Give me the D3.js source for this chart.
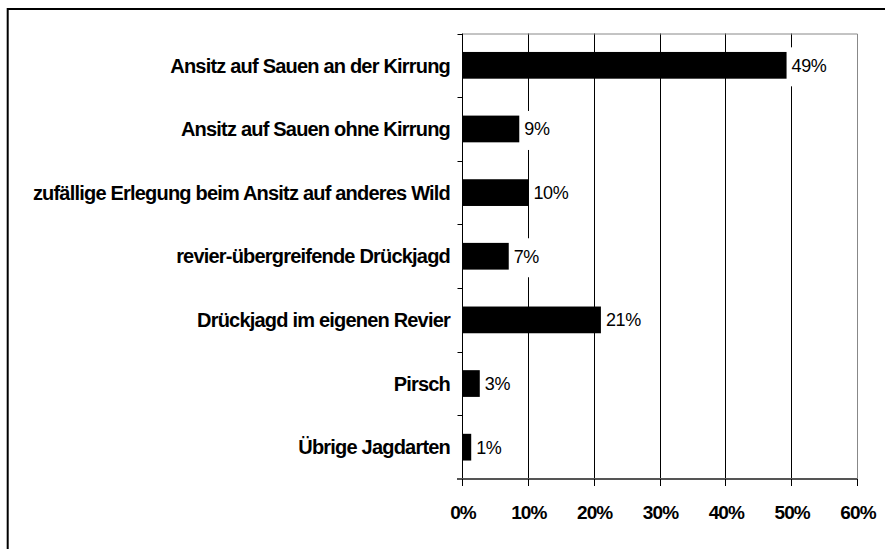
<!DOCTYPE html>
<html lang="de">
<head>
    <meta charset="UTF-8">
    <title>Jagdarten</title>
    <script src="https://cdn.jsdelivr.net/npm/d3@7"></script>
    <style>
        body {
            margin: 0;
            background: #fff;
        }

        svg {
            display: block;
        }

        .frame {
            fill: none;
            stroke: #000;
            stroke-width: 2px;
        }

        .grid line {
            stroke: #000;
            stroke-width: 1px;
        }

        .plot-border {
            fill: none;
            stroke: #888;
            stroke-width: 1px;
        }

        .bar {
            fill: #000;
        }

        .cat-label {
            font-family: "Liberation Sans", Arial, sans-serif;
            font-weight: bold;
            font-size: 20px;
            letter-spacing: -0.8px;
            fill: #000;
        }

        .value-label {
            font-family: "Liberation Sans", Arial, sans-serif;
            font-size: 18px;
            letter-spacing: -0.4px;
            fill: #000;
        }

        .tick-label {
            font-family: "Liberation Sans", Arial, sans-serif;
            font-weight: bold;
            font-size: 19px;
            letter-spacing: -0.9px;
            fill: #000;
        }
    </style>
</head>
<body>
<svg width="885" height="549"></svg>
<script>

    var categories = [
        'Ansitz auf Sauen an der Kirrung',
        'Ansitz auf Sauen ohne Kirrung',
        'zufällige Erlegung beim Ansitz auf anderes Wild',
        'revier-übergreifende Drückjagd',
        'Drückjagd im eigenen Revier',
        'Pirsch',
        'Übrige Jagdarten'
    ];
    var values = [49.3, 8.7, 10.1, 7.1, 21.1, 2.7, 1.4];
    var valueLabels = ['49%', '9%', '10%', '7%', '21%', '3%', '1%'];
    var xTicks = [0, 10, 20, 30, 40, 50, 60];

    var svg = d3.select('svg');

    var plotLeft = 462, plotRight = 857, plotTop = 33.5, plotBottom = 479;

    var x = d3.scaleLinear()
        .domain([0, 60])
        .range([plotLeft, plotRight]);

    var y = d3.scaleBand()
        .domain(categories)
        .range([plotTop, plotBottom])
        .paddingInner(0.58)
        .paddingOuter(0.29);

    var band = (plotBottom - plotTop) / categories.length;

    // outer frame, runs off the right and bottom edge
    svg.append('rect')
        .attr('class', 'frame')
        .attr('x', 7.7)
        .attr('y', 9)
        .attr('width', 900)
        .attr('height', 600);

    // vertical gridlines
    var grid = svg.append('g').attr('class', 'grid');
    grid.selectAll('line')
        .data(xTicks.slice(1, -1))
        .enter()
        .append('line')
        .attr('x1', function (d) { return Math.round(x(d)) + 0.5; })
        .attr('x2', function (d) { return Math.round(x(d)) + 0.5; })
        .attr('y1', plotTop)
        .attr('y2', plotBottom);

    // plot border top + right
    svg.append('path')
        .attr('class', 'plot-border')
        .attr('d', 'M' + (plotLeft + 0.5) + ',' + (plotTop + 0.5) + 'H' + (Math.round(plotRight) + 0.5) + 'V' + plotBottom);

    // bars
    svg.append('g').selectAll('rect')
        .data(values)
        .enter()
        .append('rect')
        .attr('class', 'bar')
        .attr('x', x(0))
        .attr('y', function (d, i) { return y(categories[i]); })
        .attr('width', function (d) { return x(d) - x(0); })
        .attr('height', y.bandwidth());

    // value labels on a white box that hides the gridlines
    var vl = svg.append('g').selectAll('g')
        .data(values)
        .enter()
        .append('g')
        .attr('transform', function (d, i) {
            return 'translate(' + (x(d) + 1.5) + ',' + (y(categories[i]) + y.bandwidth() / 2) + ')';
        });
    vl.append('rect')
        .attr('x', 0)
        .attr('y', -18)
        .attr('height', 39)
        .attr('fill', '#fff');
    vl.append('text')
        .attr('class', 'value-label')
        .attr('x', 3.5)
        .attr('dy', '0.36em')
        .text(function (d, i) { return valueLabels[i]; })
        .each(function () {
            var w = this.getComputedTextLength();
            d3.select(this.parentNode).select('rect').attr('width', w + 7);
        });

    // y axis
    var yAxis = svg.append('g')
        .attr('transform', 'translate(' + (plotLeft + 0.5) + ',0)');
    yAxis.append('line')
        .attr('y1', plotTop)
        .attr('y2', plotBottom)
        .attr('stroke', '#000');
    yAxis.selectAll('.ytick')
        .data(d3.range(categories.length + 1))
        .enter()
        .append('line')
        .attr('class', 'ytick')
        .attr('x1', -5)
        .attr('x2', 0)
        .attr('y1', function (d) { return Math.round(plotTop + d * band) + 0.5; })
        .attr('y2', function (d) { return Math.round(plotTop + d * band) + 0.5; })
        .attr('stroke', '#000');

    svg.append('g').selectAll('text')
        .data(categories)
        .enter()
        .append('text')
        .attr('class', 'cat-label')
        .attr('x', 450)
        .attr('y', function (d) { return y(d) + y.bandwidth() / 2; })
        .attr('dy', '0.36em')
        .attr('text-anchor', 'end')
        .text(function (d) { return d; });

    // x axis
    var xAxis = svg.append('g')
        .attr('transform', 'translate(0,' + plotBottom + ')');
    xAxis.append('line')
        .attr('x1', plotLeft - 5)
        .attr('x2', plotRight)
        .attr('stroke', '#555')
        .attr('stroke-width', 2);
    xAxis.selectAll('.xtick')
        .data(xTicks)
        .enter()
        .append('line')
        .attr('x1', function (d) { return Math.round(x(d)) + 0.5; })
        .attr('x2', function (d) { return Math.round(x(d)) + 0.5; })
        .attr('y1', 0)
        .attr('y2', 7)
        .attr('stroke', '#000');
    xAxis.selectAll('text')
        .data(xTicks)
        .enter()
        .append('text')
        .attr('class', 'tick-label')
        .attr('x', function (d) { return x(d) + 1; })
        .attr('y', 33)
        .attr('dy', '0.36em')
        .attr('text-anchor', 'middle')
        .text(function (d) { return d + '%'; });

</script>
</body>
</html>
